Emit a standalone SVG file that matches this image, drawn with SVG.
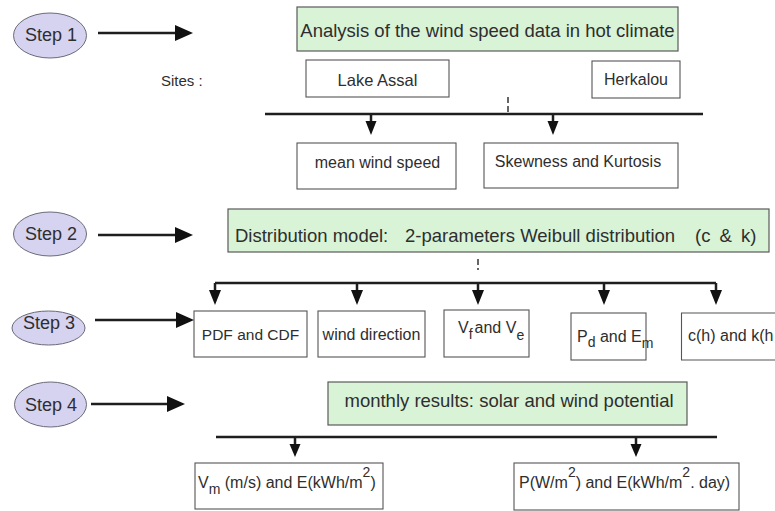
<svg xmlns="http://www.w3.org/2000/svg" width="775" height="511" viewBox="0 0 775 511">
<style>
text{font-family:"Liberation Sans",Arial,sans-serif;fill:#2e2e2e}
.step{fill:#d6d3f0;stroke:#6a6a7a;stroke-width:1}
.green{fill:#d9f3d6;stroke:#5a5a5a;stroke-width:1.2}
.box{fill:#fff;stroke:#555;stroke-width:1.1}
.st{font-size:18px}
.gt{font-size:18.5px}
.bt{font-size:16px}
.ln{stroke:#1e1e1e;stroke-width:2.5;fill:none}
.dash{stroke:#333;stroke-width:1.5;stroke-dasharray:6,3;fill:none}
.head{fill:#111}
</style>
<rect width="775" height="511" fill="#fff"/>
<g id="step1"><ellipse class="step" cx="50" cy="35.5" rx="36.5" ry="22.5"/><text class="st" x="51" y="41" text-anchor="middle">Step 1</text></g>
<g id="step2"><ellipse class="step" cx="50" cy="234" rx="36.5" ry="22"/><text class="st" x="51" y="240" text-anchor="middle">Step 2</text></g>
<g id="step3"><ellipse class="step" cx="48.5" cy="328" rx="36.5" ry="17"/><text class="st" x="49" y="329" text-anchor="middle">Step 3</text></g>
<g id="step4"><ellipse class="step" cx="50.5" cy="404.5" rx="36" ry="22.5"/><text class="st" x="51" y="411" text-anchor="middle">Step 4</text></g>
<g id="analysis"><rect class="green" x="297" y="7" width="381" height="44"/><text class="gt" x="487.5" y="37" text-anchor="middle">Analysis of the wind speed data in hot climate</text></g>
<g id="sites"><text x="161" y="86" font-size="15">Sites :</text></g>
<g id="lake"><rect class="box" x="306" y="60" width="143" height="37"/><text x="377.5" y="86" font-size="16.5" text-anchor="middle">Lake Assal</text></g>
<g id="herkalou"><rect class="box" x="592" y="61" width="88" height="37"/><text class="bt" x="636" y="85" text-anchor="middle">Herkalou</text></g>
<g id="mean"><rect class="box" x="297" y="143" width="159" height="46"/><text class="bt" x="377.5" y="168" text-anchor="middle">mean wind speed</text></g>
<g id="skew"><rect class="box" x="484" y="143" width="194" height="45"/><text class="bt" x="578" y="167" text-anchor="middle">Skewness and Kurtosis</text></g>
<g id="distribution"><rect class="green" x="228" y="209" width="541" height="43"/><text class="gt" x="235" y="242">Distribution model:</text><text class="gt" x="405" y="242">2-parameters Weibull distribution</text><text class="gt" x="695" y="242" word-spacing="4">(c &amp; k)</text></g>
<g id="pdf"><rect class="box" x="194" y="311" width="113" height="46"/><text x="250.5" y="340" font-size="15.5" text-anchor="middle">PDF and CDF</text></g>
<g id="winddir"><rect class="box" x="318" y="311" width="107" height="46"/><text class="bt" x="371.5" y="340" text-anchor="middle">wind direction</text></g>
<g id="vfve"><rect class="box" x="444" y="310" width="85" height="47"/><text class="bt" x="458" y="333">V<tspan font-size="14" dy="6">f</tspan><tspan dx="2" dy="-6">and V</tspan><tspan font-size="14" dy="7">e</tspan></text></g>
<g id="pdem"><rect class="box" x="571" y="313" width="75" height="47"/><text class="bt" x="577" y="342">P<tspan font-size="14" dy="5">d</tspan><tspan dy="-5"> and E</tspan><tspan font-size="14" dy="6">m</tspan></text></g>
<g id="chkh"><path class="box" d="M776,313 H681.5 V360 H776"/><text class="bt" x="688" y="341">c(h) and k(h</text></g>
<g id="monthly"><rect class="green" x="328" y="382" width="359" height="43"/><text class="gt" x="509" y="407" text-anchor="middle">monthly results: solar and wind potential</text></g>
<g id="vm"><rect class="box" x="195" y="463" width="188" height="46"/><text class="bt" x="198" y="488">V<tspan font-size="14" dy="6">m</tspan><tspan dy="-6"> (m/s) and E(kWh/m</tspan><tspan font-size="14" dy="-11">2</tspan><tspan dy="11">)</tspan></text></g>
<g id="pw"><rect class="box" x="514" y="463" width="225" height="47"/><text class="bt" x="519" y="488">P(W/m<tspan font-size="14" dy="-11">2</tspan><tspan dy="11">) and E(kWh/m</tspan><tspan font-size="14" dy="-11">2</tspan><tspan dy="11">. day)</tspan></text></g>
<g id="connectors">
<path class="ln" d="M98,33 H178 M98,235 H178 M95,320 H178 M91,404 H170"/>
<polygon class="head" points="175,25 193,33 175,41"/>
<polygon class="head" points="175,227 193,235 175,243"/>
<polygon class="head" points="176,312 194,320 176,328"/>
<polygon class="head" points="167,396 185,404 167,412"/>
<path class="dash" d="M508,97 V113"/>
<path class="ln" d="M265,114 H703"/>
<path class="ln" d="M371,114 V124 M553,114 V124"/>
<polygon class="head" points="365.5,121 376.5,121 371,135"/>
<polygon class="head" points="547.5,121 558.5,121 553,135"/>
<path class="dash" d="M478,259 V270"/>
<path class="ln" d="M215,283 H716 M215,283 V294 M357,283 V294 M478,283 V294 M604,283 V294 M716,283 V294"/>
<polygon class="head" points="209,290 221,290 215,305"/>
<polygon class="head" points="351,290 363,290 357,305"/>
<polygon class="head" points="472,290 484,290 478,305"/>
<polygon class="head" points="598,290 610,290 604,305"/>
<polygon class="head" points="710,290 722,290 716,305"/>
<path class="ln" d="M216,437 H717 M295,437 V447 M636,437 V447"/>
<polygon class="head" points="289.5,444 300.5,444 295,457"/>
<polygon class="head" points="630.5,444 641.5,444 636,457"/>
</g>
</svg>
